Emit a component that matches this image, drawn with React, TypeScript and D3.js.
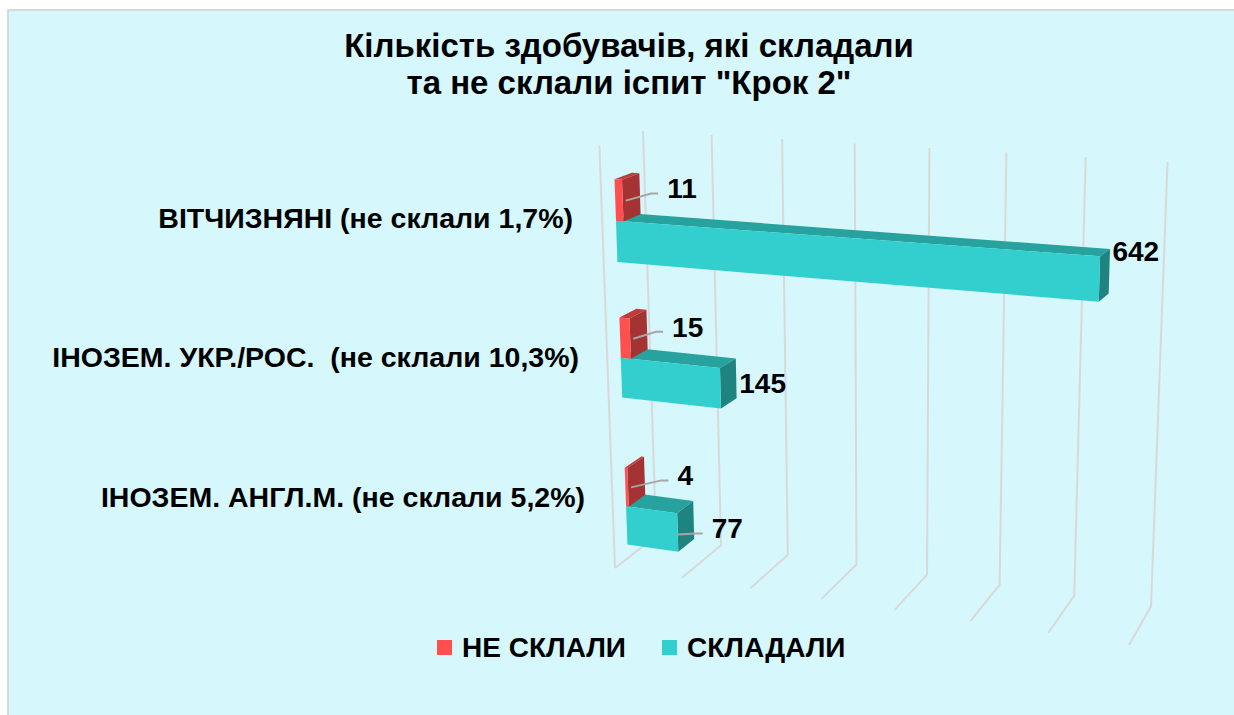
import React from 'react';
import * as d3 from 'd3';

// data
const categories = [
    'ВІТЧИЗНЯНІ (не склали 1,7%)',
    'ІНОЗЕМ. УКР./РОС.  (не склали 10,3%)',
    'ІНОЗЕМ. АНГЛ.М. (не склали 5,2%)'
];
const failed = [11, 15, 4];
const passed = [642, 145, 77];
const seriesNames = ['НЕ СКЛАЛИ', 'СКЛАДАЛИ'];
const valueTicks = [0, 100, 200, 300, 400, 500, 600, 700];
const titleLines = ['Кількість здобувачів, які складали', 'та не склали іспит "Крок 2"'];

const W = 1234;
const H = 715;
const font = '"Liberation Sans", Arial, sans-serif';
const bg = '#d6f7fc';
const gridColor = '#d9d9d9';

const colors = {
    red: {front: '#ff4f4f', top: '#c23b3b', side: '#a53333'},
    teal: {front: '#33cfcf', top: '#27a29f', side: '#1f8480'}
};

// small vertical nudges for the passed-value labels (excel moved the first one up)
const passedLabelNudge = [-24, 0, 0];

type Pt = [number, number];

// maps unit square (u right, v down) onto a quad, with perspective
function quadMap(p0: Pt, p1: Pt, p2: Pt, p3: Pt) {
    const [x0, y0] = p0, [x1, y1] = p1, [x2, y2] = p2, [x3, y3] = p3;
    const dx1 = x1 - x2, dx2 = x3 - x2, dx3 = x0 - x1 + x2 - x3;
    const dy1 = y1 - y2, dy2 = y3 - y2, dy3 = y0 - y1 + y2 - y3;
    const den = dx1 * dy2 - dx2 * dy1;
    const g = (dx3 * dy2 - dx2 * dy3) / den;
    const h = (dx1 * dy3 - dx3 * dy1) / den;
    const a = x1 - x0 + g * x1, b = x3 - x0 + h * x3, c = x0;
    const d = y1 - y0 + g * y1, e = y3 - y0 + h * y3, f = y0;
    return (u: number, v: number): Pt => {
        const w = g * u + h * v + 1;
        return [(a * u + b * v + c) / w, (d * u + e * v + f) / w];
    };
}

// back wall and front plane of the 3d box
const backWall = quadMap([643, 131], [1167.5, 162], [1151, 606.5], [656, 536]);
const frontPlane = quadMap([599.4, 145.6], [1145, 175], [1129, 645], [615, 568]);

const xScale = d3.scaleLinear().domain([0, 700]).range([0, 1]);
// category position along the vertical axis of the box (not quite even in the picture)
const catPos = d3.scaleLinear().domain([0, 1, 2]).range([0.183, 0.506, 0.870]);
const labelY = d3.scalePoint<string>().domain(categories).range([218, 497]);

const barHalf = 0.096;
const dBack = 0.285;
const dFront = 0.685;

function project(v: number, c: number, d: number): Pt {
    const u = xScale(v);
    const b = backWall(u, c);
    const f = frontPlane(u, c);
    return [b[0] + (f[0] - b[0]) * d, b[1] + (f[1] - b[1]) * d];
}

const pts = (arr: Pt[]) => arr.map(p => p[0].toFixed(1) + ',' + p[1].toFixed(1)).join(' ');

function Bar({value, cTop, cBot, col}: {value: number, cTop: number, cBot: number, col: any}) {
    const front = [project(0, cTop, dFront), project(value, cTop, dFront), project(value, cBot, dFront), project(0, cBot, dFront)];
    const top = [project(0, cTop, dFront), project(value, cTop, dFront), project(value, cTop, dBack), project(0, cTop, dBack)];
    const side = [project(value, cTop, dFront), project(value, cTop, dBack), project(value, cBot, dBack), project(value, cBot, dFront)];
    return (
        <g>
            <polygon points={pts(top)} fill={col.top}/>
            <polygon points={pts(side)} fill={col.side}/>
            <polygon points={pts(front)} fill={col.front}/>
        </g>
    );
}

function ValueLabel({x, y, text, leader}: {x: number, y: number, text: string, leader?: Pt}) {
    return (
        <g>
            {leader && (
                <polyline
                    points={pts([leader, [x - 16, y + 5], [x - 9, y + 5]])}
                    fill="none" stroke="#a6a6a6" strokeWidth={2}
                />
            )}
            <text x={x} y={y} dy="0.35em" fontFamily={font} fontWeight="bold" fontSize={28} fill="#000">{text}</text>
        </g>
    );
}

export default function App() {
    const grid = valueTicks.map(v => {
        const bt = project(v, 0, 0), bb = project(v, 1, 0), fb = project(v, 1, 1);
        return <polyline key={v} points={pts([bt, bb, fb])} fill="none" stroke={gridColor} strokeWidth={2}/>;
    });
    const frontEdge = [project(0, 0, 1), project(0, 1, 1)];

    return (
        <svg width={W} height={H} style={{position: 'absolute', left: 0, top: 0}}>
            <rect x={0} y={0} width={W} height={H} fill="#fff"/>
            <rect x={8} y={10} width={W + 20} height={H + 20} fill={bg} stroke={gridColor} strokeWidth={2}/>

            {titleLines.map((t, i) => (
                <text key={i} x={629} y={57 + i * 37} textAnchor="middle" fontFamily={font}
                      fontWeight="bold" fontSize={33} fill="#000">{t}</text>
            ))}

            {grid}
            <line x1={frontEdge[0][0]} y1={frontEdge[0][1]} x2={frontEdge[1][0]} y2={frontEdge[1][1]}
                  stroke={gridColor} strokeWidth={2}/>

            {categories.map((cat, i) => {
                const ly = labelY(cat) as number;
                return (
                    <text key={'l' + i} x={573 + 12 * (ly - 218) / 279} y={ly} dy="0.35em" textAnchor="end"
                          fontFamily={font} fontWeight="bold" fontSize={28.5} fill="#000"
                          style={{whiteSpace: 'pre'}}>{cat}</text>
                );
            })}

            {categories.map((cat, i) => {
                const center = catPos(i);
                const redTop = center - barHalf, tealBot = center + barHalf;
                // red label: leader from the bar end, text to the right
                const rAnchor = project(failed[i], center - barHalf / 2, dFront);
                const rx = project(0, center - barHalf / 2, dFront)[0] + 52;
                const ry = rAnchor[1] - 12;
                // teal label: next to the end face
                const tEnd = project(passed[i], center + barHalf / 2, dBack);
                const tFront = project(passed[i], center + barHalf / 2, dFront);
                const useLeader = passed[i] < 100;
                const tx = tEnd[0] + (useLeader ? 18 : 3);
                const ty = (useLeader ? tFront[1] - 4 : (tEnd[1] + tFront[1]) / 2) + passedLabelNudge[i];
                return (
                    <g key={'b' + i}>
                        <Bar value={passed[i]} cTop={center} cBot={tealBot} col={colors.teal}/>
                        <Bar value={failed[i]} cTop={redTop} cBot={center} col={colors.red}/>
                        <ValueLabel x={rx} y={ry} text={String(failed[i])} leader={[rAnchor[0] + 3, rAnchor[1]]}/>
                        <ValueLabel x={tx} y={ty} text={String(passed[i])}
                                    leader={useLeader ? [tFront[0], tFront[1] + 2] : undefined}/>
                    </g>
                );
            })}

            <g fontFamily={font} fontWeight="bold" fontSize={28}>
                <rect x={437} y={640} width={15} height={15} fill={colors.red.front}/>
                <text x={462} y={657}>{seriesNames[0]}</text>
                <rect x={662} y={640} width={15} height={15} fill={colors.teal.front}/>
                <text x={687} y={657}>{seriesNames[1]}</text>
            </g>
        </svg>
    );
}
